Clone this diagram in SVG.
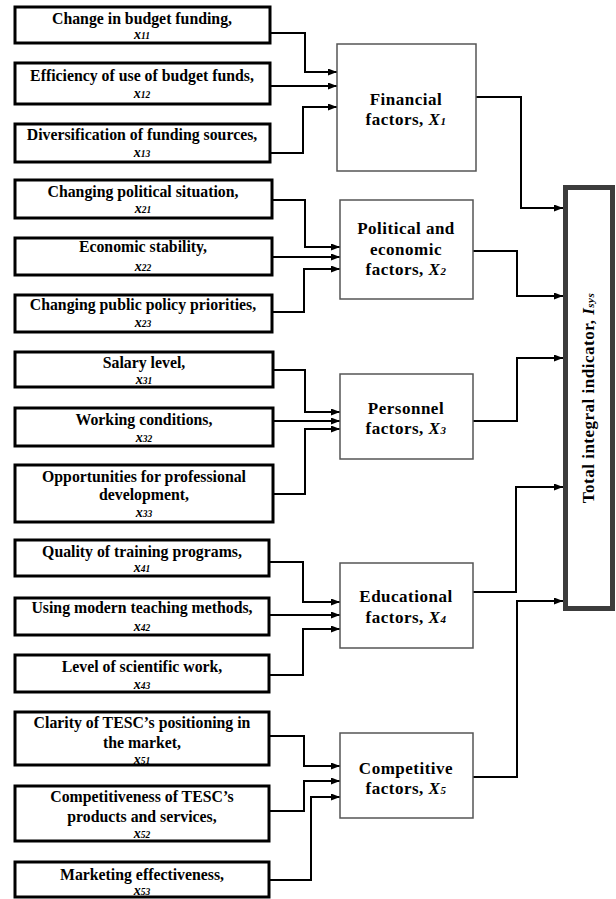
<svg xmlns="http://www.w3.org/2000/svg" width="616" height="899" viewBox="0 0 616 899">
<style>
.in{fill:#fff;stroke:#000;stroke-width:3}
.mid{fill:#fff;stroke:#555;stroke-width:1.5}
.tot{fill:#fff;stroke:#3c3c3c;stroke-width:5}
text{font-family:"Liberation Serif","Times New Roman",serif;font-weight:bold;fill:#000;text-anchor:middle}
.t{font-size:15.8px}
.v{font-size:14px;font-style:italic}
.m{font-size:17px;letter-spacing:0.5px}
.s{font-size:9.5px}
.ms{font-size:11px}
.c{fill:none;stroke:#000;stroke-width:2;marker-end:url(#ah)}
</style>
<defs>
<marker id="ah" markerUnits="userSpaceOnUse" markerWidth="9" markerHeight="7" refX="9" refY="3.5" orient="auto">
<path d="M0,0 L9,3.5 L0,7 z" fill="#000"/>
</marker>
</defs>
<rect width="616" height="899" fill="#fff"/>

<g id="connectors">
<polyline class="c" points="270,33 305,33 305,72 337,72"/>
<polyline class="c" points="270,86 337,86"/>
<polyline class="c" points="270,153 303,153 303,107 337,107"/>
<polyline class="c" points="476,97 521,97 521,208 563,208"/>

<polyline class="c" points="272,200 305,200 305,247 340,247"/>
<polyline class="c" points="272,257 340,257"/>
<polyline class="c" points="272,312 304,312 304,269 340,269"/>
<polyline class="c" points="473,251 517,251 517,296 563,296"/>

<polyline class="c" points="273,370 305,370 305,412 340,412"/>
<polyline class="c" points="273,421 340,421"/>
<polyline class="c" points="273,494 305,494 305,429 340,429"/>
<polyline class="c" points="473,421 517,421 517,358 563,358"/>

<polyline class="c" points="269,562 303,562 303,602 340,602"/>
<polyline class="c" points="269,615 340,615"/>
<polyline class="c" points="269,675 303,675 303,629 340,629"/>
<polyline class="c" points="473,592 516,592 516,487 563,487"/>

<polyline class="c" points="269,736 304,736 304,766 340,766"/>
<polyline class="c" points="269,811 304,811 304,781 340,781"/>
<polyline class="c" points="269,880 311,880 311,797 340,797"/>
<polyline class="c" points="473,777 517,777 517,601 563,601"/>
</g>

<g id="x11"><rect class="in" x="15" y="7" width="255" height="36"/>
<text class="t" x="142" y="24">Change in budget funding,</text>
<text class="v" x="142" y="39">x<tspan class="s">11</tspan></text></g>
<g id="x12"><rect class="in" x="15" y="63" width="255" height="41"/>
<text class="t" x="142" y="81">Efficiency of use of budget funds,</text>
<text class="v" x="142" y="98">x<tspan class="s">12</tspan></text></g>
<g id="x13"><rect class="in" x="15" y="124" width="255" height="38"/>
<text class="t" x="142" y="140">Diversification of funding sources,</text>
<text class="v" x="142" y="157">x<tspan class="s">13</tspan></text></g>

<g id="x21"><rect class="in" x="15" y="180" width="257" height="38"/>
<text class="t" x="143" y="197">Changing political situation,</text>
<text class="v" x="143" y="213">x<tspan class="s">21</tspan></text></g>
<g id="x22"><rect class="in" x="15" y="238" width="257" height="37"/>
<text class="t" x="143" y="252">Economic stability,</text>
<text class="v" x="143" y="271">x<tspan class="s">22</tspan></text></g>
<g id="x23"><rect class="in" x="15" y="295" width="257" height="37"/>
<text class="t" x="143" y="310">Changing public policy priorities,</text>
<text class="v" x="143" y="327">x<tspan class="s">23</tspan></text></g>

<g id="x31"><rect class="in" x="15" y="352" width="258" height="35"/>
<text class="t" x="144" y="368">Salary level,</text>
<text class="v" x="144" y="384">x<tspan class="s">31</tspan></text></g>
<g id="x32"><rect class="in" x="15" y="408" width="258" height="38"/>
<text class="t" x="144" y="425">Working conditions,</text>
<text class="v" x="144" y="442">x<tspan class="s">32</tspan></text></g>
<g id="x33"><rect class="in" x="15" y="465" width="258" height="57"/>
<text class="t" x="144" y="482">Opportunities for professional</text>
<text class="t" x="144" y="500">development,</text>
<text class="v" x="144" y="517">x<tspan class="s">33</tspan></text></g>

<g id="x41"><rect class="in" x="15" y="540" width="254" height="36"/>
<text class="t" x="142" y="557">Quality of training programs,</text>
<text class="v" x="142" y="572">x<tspan class="s">41</tspan></text></g>
<g id="x42"><rect class="in" x="15" y="598" width="254" height="37"/>
<text class="t" x="142" y="613">Using modern teaching methods,</text>
<text class="v" x="142" y="631">x<tspan class="s">42</tspan></text></g>
<g id="x43"><rect class="in" x="15" y="655" width="254" height="37"/>
<text class="t" x="142" y="672">Level of scientific work,</text>
<text class="v" x="142" y="689">x<tspan class="s">43</tspan></text></g>

<g id="x51"><rect class="in" x="15" y="712" width="254" height="53"/>
<text class="t" x="142" y="728">Clarity of TESC’s positioning in</text>
<text class="t" x="142" y="748">the market,</text>
<text class="v" x="142" y="764">x<tspan class="s">51</tspan></text></g>
<g id="x52"><rect class="in" x="15" y="786" width="254" height="55"/>
<text class="t" x="142" y="802">Competitiveness of TESC’s</text>
<text class="t" x="142" y="822">products and services,</text>
<text class="v" x="142" y="838">x<tspan class="s">52</tspan></text></g>
<g id="x53"><rect class="in" x="15" y="862" width="254" height="35"/>
<text class="t" x="142" y="880">Marketing effectiveness,</text>
<text class="v" x="142" y="895">x<tspan class="s">53</tspan></text></g>

<g id="X1"><rect class="mid" x="337" y="44" width="139" height="127"/>
<text class="m" x="406" y="105">Financial</text>
<text class="m" x="406" y="125">factors, <tspan font-style="italic">X<tspan class="ms">1</tspan></tspan></text></g>
<g id="X2"><rect class="mid" x="340" y="200" width="133" height="99"/>
<text class="m" x="406" y="234">Political and</text>
<text class="m" x="406" y="255">economic</text>
<text class="m" x="406" y="275">factors, <tspan font-style="italic">X<tspan class="ms">2</tspan></tspan></text></g>
<g id="X3"><rect class="mid" x="340" y="374" width="133" height="85"/>
<text class="m" x="406" y="414">Personnel</text>
<text class="m" x="406" y="434">factors, <tspan font-style="italic">X<tspan class="ms">3</tspan></tspan></text></g>
<g id="X4"><rect class="mid" x="340" y="563" width="133" height="85"/>
<text class="m" x="406" y="602">Educational</text>
<text class="m" x="406" y="623">factors, <tspan font-style="italic">X<tspan class="ms">4</tspan></tspan></text></g>
<g id="X5"><rect class="mid" x="340" y="733" width="133" height="85"/>
<text class="m" x="406" y="774">Competitive</text>
<text class="m" x="406" y="794">factors, <tspan font-style="italic">X<tspan class="ms">5</tspan></tspan></text></g>

<g id="Isys"><rect class="tot" x="565.5" y="187.5" width="47" height="421"/>
<text class="m" font-size="16" transform="translate(594,398) rotate(-90)">Total integral indicator, <tspan font-style="italic">I<tspan class="ms">sys</tspan></tspan></text></g>
</svg>
